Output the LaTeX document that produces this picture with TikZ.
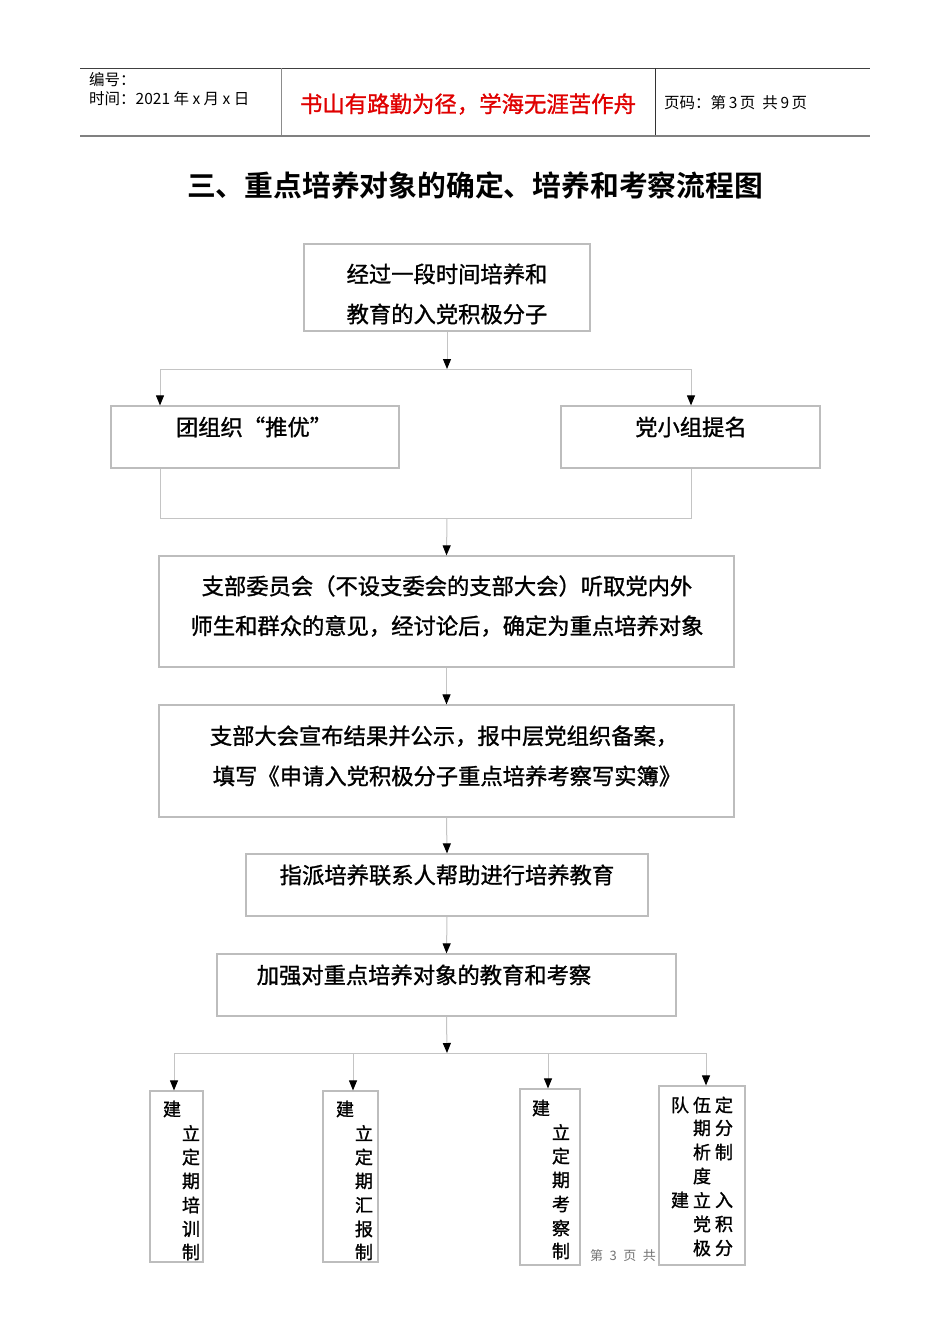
\documentclass[tikz,border=0pt]{standalone}
\usepackage{fontspec}
\setmainfont{Noto Sans CJK SC}
\newfontfamily\boxfont{Noto Sans CJK SC}[FakeBold=1.2]
\newfontfamily\titlefont{Noto Sans CJK SC Bold}
\usetikzlibrary{arrows.meta}
\definecolor{boxgray}{HTML}{BDBDBD}
\definecolor{linegray}{HTML}{C4C4C4}
\definecolor{hdrred}{HTML}{E00000}
\begin{document}
\begin{tikzpicture}[x=1pt,y=-1pt,
  box/.style={draw=boxgray,line width=1.2pt,fill=white,inner sep=0pt},
  txt/.style={inner sep=0pt,font=\boxfont\fontsize{22.3pt}{22.3pt}\selectfont},
  vch/.style={inner sep=0pt,font=\boxfont\fontsize{18pt}{18pt}\selectfont},
  hdr/.style={inner sep=0pt,anchor=west,font=\fontsize{15.5pt}{15.5pt}\selectfont},
  conn/.style={draw=linegray,line width=1pt,-{Triangle[length=10pt,width=8pt,color=black]}},
  plain/.style={draw=linegray,line width=1pt}]
\useasboundingbox[fill=white] (0,0) rectangle (950,1344);

% header
\draw[line width=1pt,color=black!75] (80,68) -- (870,68);
\draw[line width=2pt,color=black!50] (80,135.5) -- (870,135.5);
\draw[line width=1pt,color=black!45] (281,68) -- (281,135);
\draw[line width=1pt,color=black!80] (655,68) -- (655,135);
\node[hdr] (h1) at (89,80) {编号：};
\node[hdr] (h2) at (89,99) {时间：2021\ 年\ x\ 月\ x\ 日};
\node[inner sep=0pt,text=hdrred,font=\boxfont\fontsize{22.4pt}{22.4pt}\selectfont] (h3) at (468,104) {书山有路勤为径，学海无涯苦作舟};
\node[hdr] (h4) at (664,103) {页码：第\,3\,页\ \ 共\,9\,页};

% title
\node[inner sep=0pt,font=\titlefont\fontsize{28.8pt}{28.8pt}\selectfont] (title) at (475,185) {三、重点培养对象的确定、培养和考察流程图};

% boxes
\node[box,minimum width=286pt,minimum height=87pt] (b1) at (447,287.5) {};
\node[txt] (t1a) at (447,274) {经过一段时间培养和};
\node[txt] (t1b) at (447,314) {教育的入党积极分子};

\node[box,minimum width=288pt,minimum height=62pt] (b2) at (255,437) {};
\node[txt] (t2) at (254,427) {团组织“推优”};
\node[box,minimum width=259pt,minimum height=62pt] (b3) at (690.5,437) {};
\node[txt] (t3) at (691,427) {党小组提名};

\node[box,minimum width=575pt,minimum height=111pt] (b4) at (446.5,611.5) {};
\node[txt] (t4a) at (447,586) {支部委员会（不设支委会的支部大会）听取党内外};
\node[txt] (t4b) at (447,626) {师生和群众的意见，经讨论后，确定为重点培养对象};

\node[box,minimum width=575pt,minimum height=112pt] (b5) at (446.5,761) {};
\node[txt] (t5a) at (444,736) {支部大会宣布结果并公示，报中层党组织备案，};
\node[txt] (t5b) at (447,776) {填写《申请入党积极分子重点培养考察写实簿》};

\node[box,minimum width=402pt,minimum height=62pt] (b6) at (447,885) {};
\node[txt] (t6) at (447,875) {指派培养联系人帮助进行培养教育};

\node[box,minimum width=459pt,minimum height=62pt] (b7) at (446.5,985) {};
\node[txt] (t7) at (424,975) {加强对重点培养对象的教育和考察};

% footer page text (partly hidden by last box)
\node[inner sep=0pt,anchor=west,text=black!55,font=\fontsize{13pt}{13pt}\selectfont] (foot) at (590,1256) {第\enspace 3\enspace 页\enspace 共};

\node[box,minimum width=53pt,minimum height=171pt] (s1) at (176.5,1176.5) {};
\node[box,minimum width=55pt,minimum height=171pt] (s2) at (350.5,1176.5) {};
\node[box,minimum width=60pt,minimum height=176pt] (s3) at (550,1177) {};
\node[box,minimum width=86pt,minimum height=179pt] (s4) at (702,1175.5) {};

% vertical texts
\node[vch] (s1c0) at (172,1109) {建};
\node[vch] (s1c1) at (191,1133) {立};
\node[vch] (s1c2) at (191,1157) {定};
\node[vch] (s1c3) at (191,1181) {期};
\node[vch] (s1c4) at (191,1205) {培};
\node[vch] (s1c5) at (191,1229) {训};
\node[vch] (s1c6) at (191,1252) {制};

\node[vch] (s2c0) at (345,1109) {建};
\node[vch] (s2c1) at (364,1133) {立};
\node[vch] (s2c2) at (364,1157) {定};
\node[vch] (s2c3) at (364,1181) {期};
\node[vch] (s2c4) at (364,1205) {汇};
\node[vch] (s2c5) at (364,1229) {报};
\node[vch] (s2c6) at (364,1252) {制};

\node[vch] (s3c0) at (541,1108) {建};
\node[vch] (s3c1) at (561,1132) {立};
\node[vch] (s3c2) at (561,1156) {定};
\node[vch] (s3c3) at (561,1180) {期};
\node[vch] (s3c4) at (561,1204) {考};
\node[vch] (s3c5) at (561,1228) {察};
\node[vch] (s3c6) at (561,1251) {制};

\node[vch] (s4a1) at (680,1105) {队};
\node[vch] (s4a2) at (702,1105) {伍};
\node[vch] (s4a3) at (724,1105) {定};
\node[vch] (s4b2) at (702,1128) {期};
\node[vch] (s4b3) at (724,1128) {分};
\node[vch] (s4c2) at (702,1152) {析};
\node[vch] (s4c3) at (724,1152) {制};
\node[vch] (s4d2) at (702,1176) {度};
\node[vch] (s4e1) at (680,1200) {建};
\node[vch] (s4e2) at (702,1200) {立};
\node[vch] (s4e3) at (724,1200) {入};
\node[vch] (s4f2) at (702,1224) {党};
\node[vch] (s4f3) at (724,1224) {积};
\node[vch] (s4g2) at (702,1248) {极};
\node[vch] (s4g3) at (724,1248) {分};

% connectors
\coordinate (j1) at (447,369);
\coordinate (jL) at (160,369);
\coordinate (jR) at (691,369);
\coordinate (mL) at (160,518);
\coordinate (mR) at (691,518);
\coordinate (j2) at (447,518);
\coordinate (j3) at (447,1053);
\coordinate (k1) at (174,1053);
\coordinate (k2) at (353,1053);
\coordinate (k3) at (548,1053);
\coordinate (k4) at (706,1053);

\draw[plain] (jL) -- (jR);
\draw[conn] (b1.south) -- (j1);
\draw[conn] (jL) -- (jL |- b2.north);
\draw[conn] (jR) -- (jR |- b3.north);
\draw[plain] (jL |- b2.south) -- (mL) -- (mR) -- (jR |- b3.south);
\draw[conn] (j2) -- (b4.north);
\draw[conn] (b4.south) -- (b5.north);
\draw[conn] (b5.south) -- (b6.north);
\draw[conn] (b6.south) -- (b7.north);
\draw[conn] (b7.south) -- (j3);
\draw[plain] (k1) -- (k4);
\draw[conn] (k1) -- (k1 |- s1.north);
\draw[conn] (k2) -- (k2 |- s2.north);
\draw[conn] (k3) -- (k3 |- s3.north);
\draw[conn] (k4) -- (k4 |- s4.north);
\end{tikzpicture}
\end{document}
